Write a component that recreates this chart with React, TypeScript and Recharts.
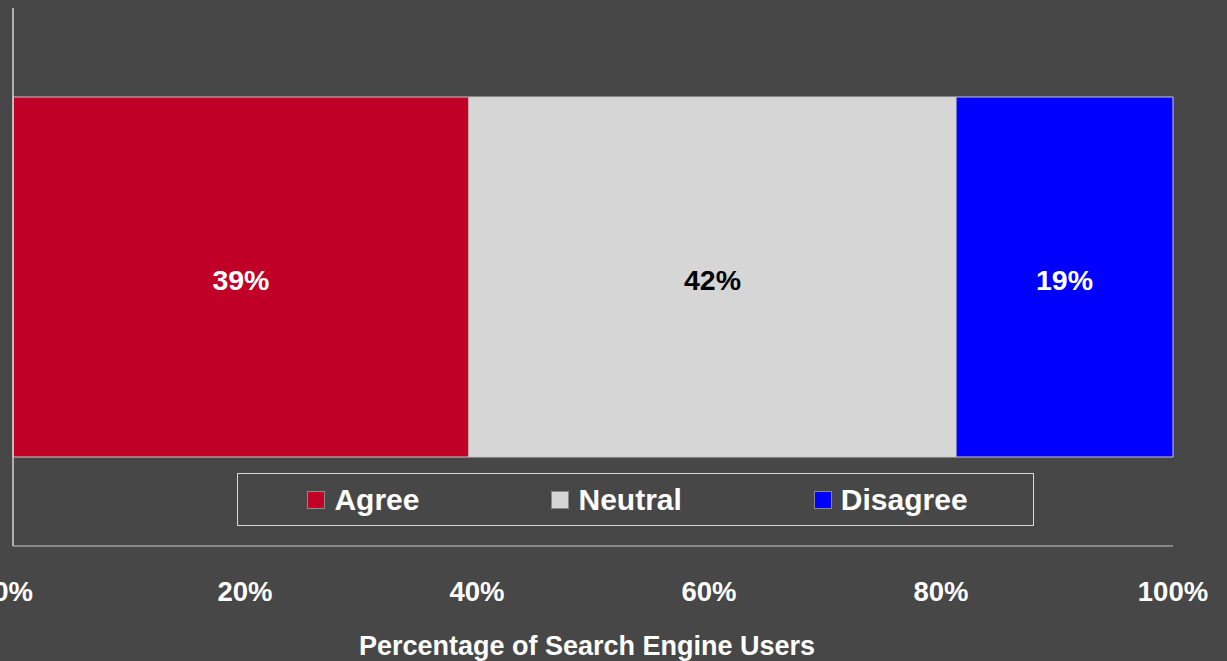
import { Bar, BarChart, LabelList, Legend, XAxis, YAxis, Label } from 'recharts';

const categories = ['Search engine users'];
const seriesNames = ['Agree', 'Neutral', 'Disagree'];
const agreeValues = [39.3];
const neutralValues = [42.0];
const disagreeValues = [18.7];
const xTicks = [0, 20, 40, 60, 80, 100];

const seriesColors = ['#c00027', '#d6d6d6', '#0000ff'];
const labelColors = ['#ffffff', '#000000', '#ffffff'];
const FONT = '"Liberation Sans", Arial, sans-serif';

const data = categories.map((name, i) => ({
  name,
  Agree: agreeValues[i],
  Neutral: neutralValues[i],
  Disagree: disagreeValues[i],
}));

function LegendBox() {
  return (
    <div
      style={{
        boxSizing: 'border-box',
        width: 797,
        height: 53,
        border: '1.5px solid #d8d8d8',
        display: 'flex',
        alignItems: 'center',
        justifyContent: 'center',
        gap: 132,
        paddingLeft: 4,
        fontFamily: FONT,
        fontWeight: 'bold',
        fontSize: 30,
        color: '#ffffff',
      }}
    >
      {seriesNames.map((s, i) => (
        <div key={s} style={{ display: 'flex', alignItems: 'center' }}>
          <span
            style={{
              display: 'inline-block',
              boxSizing: 'border-box',
              width: 18,
              height: 18,
              background: seriesColors[i],
              border: '1px solid #8a8a8a',
              marginRight: 9,
            }}
          />
          <span>{s}</span>
        </div>
      ))}
    </div>
  );
}

export default function App() {
  return (
    <div style={{ position: 'absolute', left: 0, top: 0, width: 1227, height: 661, background: '#474747' }}>
      <BarChart
        width={1227}
        height={661}
        data={data}
        layout="vertical"
        margin={{ top: 8, right: 54, bottom: 0, left: 0 }}
        barSize={360}
      >
        <XAxis
          type="number"
          domain={[0, 100]}
          ticks={xTicks}
          interval={0}
          tickFormatter={(v) => `${v}%`}
          height={115}
          tickSize={0}
          tickMargin={35}
          axisLine={{ stroke: '#9c9c9c', strokeWidth: 1.5 }}
          tick={{ fill: '#ffffff', fontSize: 27.5, fontWeight: 'bold', fontFamily: FONT }}
        >
          <Label
            value="Percentage of Search Engine Users"
            position="insideBottom"
            offset={6}
            dx={-6}
            style={{ fill: '#ffffff', fontSize: 27, fontWeight: 'bold', fontFamily: FONT }}
          />
        </XAxis>
        <YAxis
          type="category"
          dataKey="name"
          width={13}
          tick={false}
          tickLine={false}
          axisLine={{ stroke: '#d0d0d0', strokeWidth: 1.5 }}
        />
        <Legend
          verticalAlign="middle"
          align="center"
          wrapperStyle={{ left: 237, top: 473, width: 797, height: 53 }}
          content={() => <LegendBox />}
        />
        {seriesNames.map((s, i) => (
          <Bar
            key={s}
            dataKey={s}
            stackId="a"
            fill={seriesColors[i]}
            stroke="#c8c8c8"
            strokeWidth={1}
            isAnimationActive={false}
          >
            <LabelList
              dataKey={s}
              position="center"
              formatter={(v: number) => `${Math.round(v)}%`}
              fill={labelColors[i]}
              dy={3}
              style={{ fontSize: 28.5, fontWeight: 'bold', fontFamily: FONT }}
            />
          </Bar>
        ))}
      </BarChart>
    </div>
  );
}
